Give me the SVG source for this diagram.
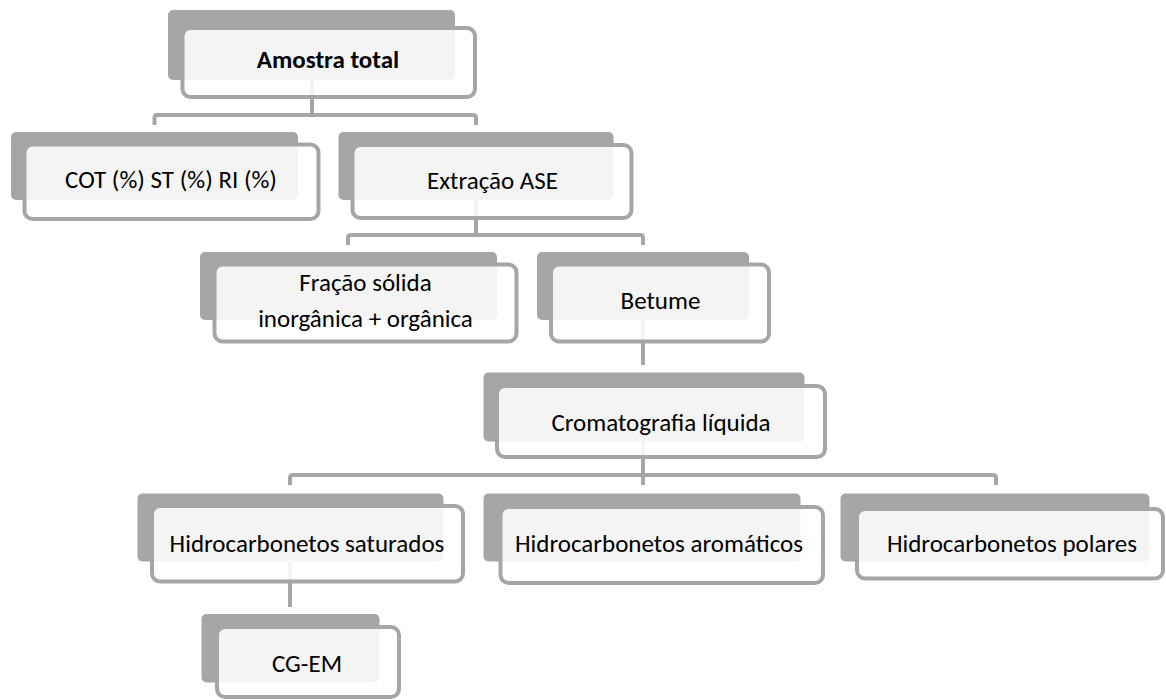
<svg xmlns="http://www.w3.org/2000/svg" width="1166" height="700" viewBox="0 0 1166 700">
  <style>
    .back { fill: #a6a6a6; }
    .front { fill: #ffffff; fill-opacity: 0.88; stroke: #a6a6a6; stroke-width: 4; }
    .link { fill: none; stroke: #a6a6a6; stroke-width: 4; stroke-linejoin: round; }
    .label { font-family: Carlito, Lato, "Liberation Sans", sans-serif; font-size: 25px; fill: #000000; text-anchor: middle; }
    .bold { font-weight: bold; }
  </style>
  <rect width="1166" height="700" fill="#ffffff"/>

  <!-- connectors -->
  <g id="connectors">
    <path class="link" d="M312 80 V115 M154.5 125 V118 Q154.5 115 157.5 115 H473 Q476 115 476 118 V125"/>
    <path class="link" d="M476 200 V235 M348 245 V238 Q348 235 351 235 H640 Q643 235 643 238 V245"/>
    <path class="link" d="M643 320 V365"/>
    <path class="link" d="M643 441 V485 M290 485 V478 Q290 475 293 475 H993 Q996 475 996 478 V485"/>
    <path class="link" d="M290 562 V607"/>
  </g>

  <g id="node-amostra">
    <rect class="back" x="168" y="10" width="287" height="70" rx="5"/>
    <rect class="front" x="182.5" y="28" width="292.5" height="69" rx="8"/>
    <text class="label bold" x="328" y="68">Amostra total</text>
  </g>

  <g id="node-cot">
    <rect class="back" x="11" y="132" width="287" height="68" rx="5"/>
    <rect class="front" x="24.5" y="144.5" width="294" height="74.5" rx="8"/>
    <text class="label" x="171" y="188">COT (%) ST (%) RI (%)</text>
  </g>

  <g id="node-extracao">
    <rect class="back" x="338.5" y="132" width="275" height="68" rx="5"/>
    <rect class="front" x="352.5" y="145" width="279" height="73" rx="8"/>
    <text class="label" x="492.5" y="189">Extração ASE</text>
  </g>

  <g id="node-fracao">
    <rect class="back" x="200" y="252" width="297" height="68" rx="5"/>
    <rect class="front" x="214.5" y="264.5" width="302" height="77" rx="8"/>
    <text class="label" x="365.5" y="290.5">Fração sólida</text>
    <text class="label" x="365.5" y="327">inorgânica + orgânica</text>
  </g>

  <g id="node-betume">
    <rect class="back" x="537" y="252" width="212" height="68" rx="5"/>
    <rect class="front" x="551" y="264.5" width="218" height="77" rx="8"/>
    <text class="label" x="660.5" y="309">Betume</text>
  </g>

  <g id="node-cromatografia">
    <rect class="back" x="483.5" y="372.5" width="321" height="69" rx="5"/>
    <rect class="front" x="497" y="386" width="328" height="71" rx="8"/>
    <text class="label" x="661" y="431">Cromatografia líquida</text>
  </g>

  <g id="node-saturados">
    <rect class="back" x="137.5" y="493.5" width="306" height="68" rx="5"/>
    <rect class="front" x="152" y="506" width="311" height="75.5" rx="8"/>
    <text class="label" x="307" y="551.5">Hidrocarbonetos saturados</text>
  </g>

  <g id="node-aromaticos">
    <rect class="back" x="483.5" y="493.5" width="317" height="68" rx="5"/>
    <rect class="front" x="500.5" y="507" width="322.5" height="76" rx="8"/>
    <text class="label" x="659" y="551.5">Hidrocarbonetos aromáticos</text>
  </g>

  <g id="node-polares">
    <rect class="back" x="840.5" y="493.5" width="309" height="68" rx="5"/>
    <rect class="front" x="857" y="509" width="306" height="69.5" rx="8"/>
    <text class="label" x="1012" y="551.5">Hidrocarbonetos polares</text>
  </g>

  <g id="node-cgem">
    <rect class="back" x="201.5" y="614" width="178" height="68.5" rx="5"/>
    <rect class="front" x="217" y="627" width="182" height="70" rx="8"/>
    <text class="label" x="307" y="671.5">CG-EM</text>
  </g>
</svg>
